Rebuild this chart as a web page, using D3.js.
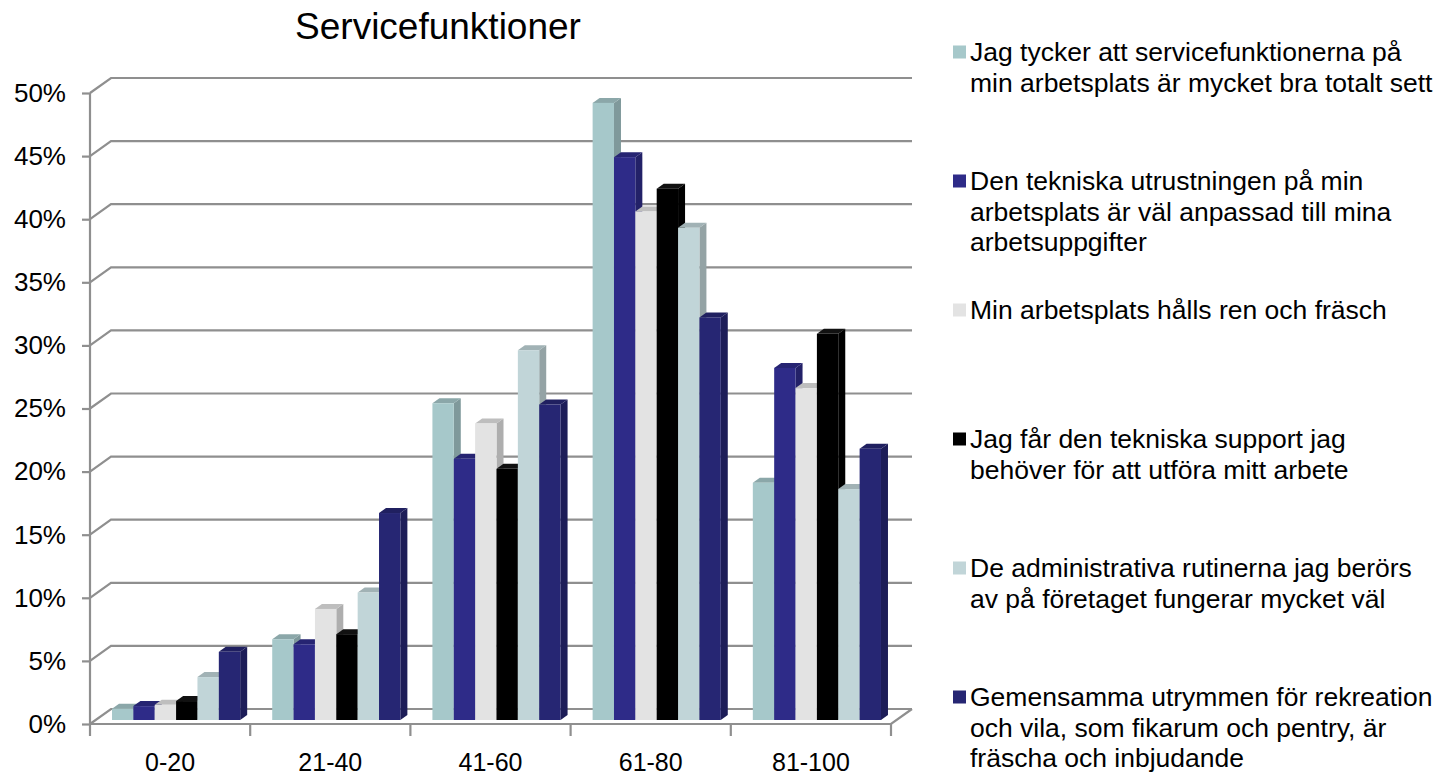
<!DOCTYPE html>
<html>
<head>
<meta charset="utf-8">
<script src="https://cdn.jsdelivr.net/npm/d3@7"></script>
<style>
  html, body { margin: 0; padding: 0; background: #fff; }
  svg { display: block; font-family: "Liberation Sans", Arial, sans-serif; }
</style>
</head>
<body>
<svg id="chart" width="1443" height="778"></svg>
<script>
const title = "Servicefunktioner";
const categories = ["0-20", "21-40", "41-60", "61-80", "81-100"];
const yTickValues = [0, 5, 10, 15, 20, 25, 30, 35, 40, 45, 50];
const yTickLabels = ["0%", "5%", "10%", "15%", "20%", "25%", "30%", "35%", "40%", "45%", "50%"];

const seriesNames = [
  ["Jag tycker att servicefunktionerna på", "min arbetsplats är mycket bra totalt sett"],
  ["Den tekniska utrustningen på min", "arbetsplats är väl anpassad till mina", "arbetsuppgifter"],
  ["Min arbetsplats hålls ren och fräsch"],
  ["Jag får den tekniska support jag", "behöver för att utföra mitt arbete"],
  ["De administrativa rutinerna jag berörs", "av på företaget fungerar mycket väl"],
  ["Gemensamma utrymmen för rekreation", "och vila, som fikarum och pentry, är", "fräscha och inbjudande"]
];
const s1 = [0.9, 6.4, 25.1, 48.9, 18.8];
const s2 = [1.1, 6.0, 20.7, 44.6, 27.9];
const s3 = [1.2, 8.8, 23.5, 40.3, 26.3];
const s4 = [1.5, 6.8, 19.9, 42.1, 30.6];
const s5 = [3.4, 10.1, 29.3, 39.0, 18.3];
const s6 = [5.4, 16.4, 25.0, 31.9, 21.5];
const seriesValues = [s1, s2, s3, s4, s5, s6];
const seriesColors = ["#A6C8CA", "#2E2B88", "#E3E3E3", "#000000", "#C1D5D8", "#262673"];

const svg = d3.select("#chart");
const FONT = "Liberation Sans, Arial, sans-serif";

// geometry
const left = 90, right = 891, y0 = 724, yTop = 93;
const back = {dx: 21, dy: -15};
const barOff = {dx: 6, dy: -4};
const depth = {dx: 7, dy: -5};

const x = d3.scaleBand().domain(categories).range([left, right]).paddingInner(0).paddingOuter(0);
const xs = d3.scaleBand().domain(d3.range(seriesValues.length)).range([0, x.bandwidth()]).paddingInner(0).paddingOuter(0.75);
const y = d3.scaleLinear().domain([0, 50]).range([y0, yTop]);

const gridColor = "#8f8f8f";

// gridlines (left diagonal + back wall)
const grid = svg.append("g");
yTickValues.forEach(v => {
  const yy = y(v);
  grid.append("path")
    .attr("d", `M${left},${yy} L${left + back.dx},${yy + back.dy} L${right + back.dx},${yy + back.dy}`)
    .attr("fill", "none").attr("stroke", gridColor).attr("stroke-width", 2.2);
});
// floor front edge and right diagonal
grid.append("path")
  .attr("d", `M${left},${y0} L${right},${y0} L${right + back.dx},${y0 + back.dy}`)
  .attr("fill", "none").attr("stroke", gridColor).attr("stroke-width", 2.2);

// y axis
const yAxis = d3.axisLeft(y).tickValues(yTickValues).tickFormat((d, i) => yTickLabels[i]).tickSize(8).tickPadding(16);
const ya = svg.append("g").attr("transform", `translate(${left},0)`).call(yAxis);
ya.select(".domain").attr("stroke", gridColor).attr("stroke-width", 2.2).attr("d", `M0,${yTop}V${y0}`);
ya.selectAll(".tick line").attr("stroke", gridColor).attr("stroke-width", 2.2);
ya.selectAll(".tick text").attr("font-size", 26).attr("fill", "#000").attr("font-family", FONT);

// x axis boundary ticks
const bounds = categories.map(c => x(c)).concat([right]);
svg.append("g").selectAll("line").data(bounds).join("line")
  .attr("x1", d => d).attr("x2", d => d).attr("y1", y0).attr("y2", y0 + 12)
  .attr("stroke", gridColor).attr("stroke-width", 2.2);
const xAxis = d3.axisBottom(x).tickSize(0).tickPadding(29);
const xa = svg.append("g").attr("transform", `translate(0,${y0})`).call(xAxis);
xa.select(".domain").remove();
xa.selectAll(".tick text").attr("font-size", 25).attr("fill", "#000").attr("font-family", FONT);

// bars
function shade(c, k) { return d3.rgb(c).darker(k).formatHex(); }
const bars = svg.append("g");
categories.forEach((cat, ci) => {
  seriesValues.forEach((vals, si) => {
    const v = vals[ci];
    const bx = x(cat) + xs(si) + barOff.dx;
    const bw = xs.bandwidth();
    const by = y(v) + barOff.dy;
    const bb = y0 + barOff.dy;
    const col = seriesColors[si];
    const g = bars.append("g");
    g.append("path")
      .attr("d", `M${bx + bw},${bb} L${bx + bw},${by} L${bx + bw + depth.dx},${by + depth.dy} L${bx + bw + depth.dx},${bb + depth.dy} Z`)
      .attr("fill", si === 3 ? "#000" : shade(col, 0.75));
    g.append("path")
      .attr("d", `M${bx},${by} L${bx + depth.dx},${by + depth.dy} L${bx + bw + depth.dx},${by + depth.dy} L${bx + bw},${by} Z`)
      .attr("fill", si === 3 ? "#111" : shade(col, 0.5));
    g.append("rect")
      .attr("x", bx).attr("y", by).attr("width", bw).attr("height", bb - by)
      .attr("fill", col);
  });
});

// title
svg.append("text").attr("x", 438).attr("y", 39).attr("text-anchor", "middle")
  .attr("font-size", 37).attr("fill", "#000").attr("font-family", FONT).text(title);

// legend
const legend = svg.append("g");
const legY0 = 52, legStep = 129, lineH = 30.5;
seriesNames.forEach((lines, i) => {
  const cy = legY0 + i * legStep;
  legend.append("rect").attr("x", 953).attr("y", cy - 6.5).attr("width", 13).attr("height", 13).attr("fill", seriesColors[i]);
  const t = legend.append("text").attr("x", 970).attr("y", cy + 9).attr("font-size", 26.5).attr("fill", "#000").attr("font-family", FONT);
  lines.forEach((ln, j) => {
    t.append("tspan").attr("x", 970).attr("dy", j === 0 ? 0 : lineH).text(ln);
  });
});
</script>
</body>
</html>
